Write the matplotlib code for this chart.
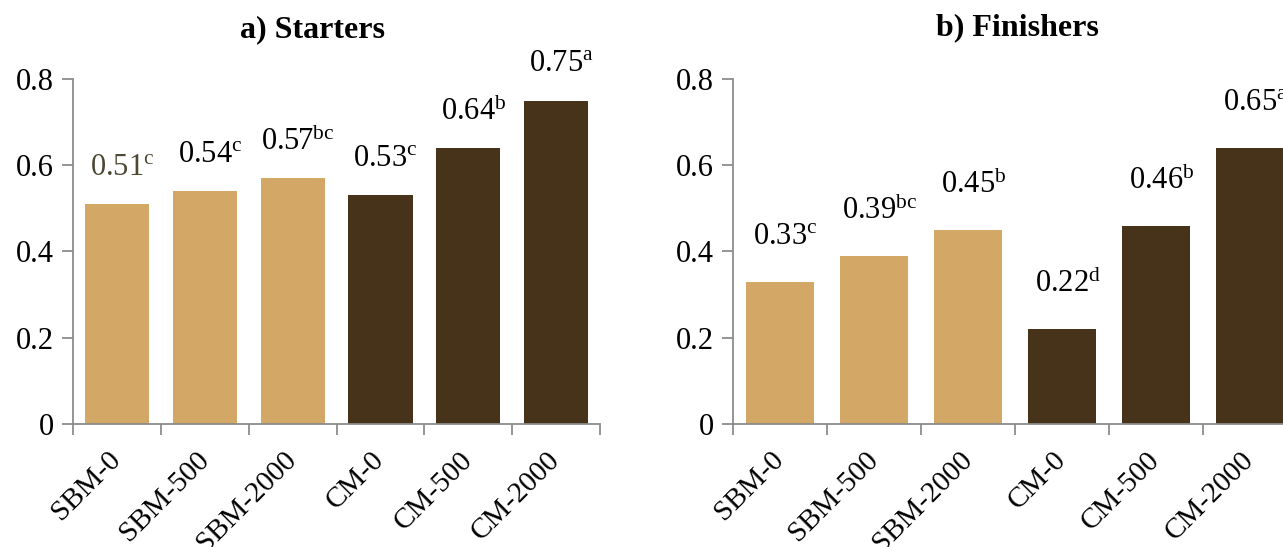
import numpy as np
import matplotlib
matplotlib.use('Agg')
import matplotlib.pyplot as plt

# ==========================================
# Plot style (Times-like serif, Excel look)
# ==========================================
plt.rcParams.update({
    'font.family': 'Liberation Serif',
    'mathtext.fontset': 'custom',
    'mathtext.rm': 'Liberation Serif',
    'mathtext.it': 'Liberation Serif:italic',
    'mathtext.bf': 'Liberation Serif:bold',
})

# ==========================================
# Data
# ==========================================
categories = ['SBM-0', 'SBM-500', 'SBM-2000', 'CM-0', 'CM-500', 'CM-2000']

starters = [0.51, 0.54, 0.57, 0.53, 0.64, 0.75]
starters_labels = ['0.51', '0.54', '0.57', '0.53', '0.64', '0.75']
starters_letters = ['c', 'c', 'bc', 'c', 'b', 'a']

finishers = [0.33, 0.39, 0.45, 0.22, 0.46, 0.64]
finishers_labels = ['0.33', '0.39', '0.45', '0.22', '0.46', '0.65']
finishers_letters = ['c', 'bc', 'b', 'd', 'b', 'a']

yticks = [0, 0.2, 0.4, 0.6, 0.8]

SBM_COLOR = '#d3a765'
CM_COLOR = '#47321a'
AXIS_COLOR = '#8c8c8c'


def draw_panel(ax, values, labels, letters, label_offset, first_color='black'):
    x = np.arange(len(categories))
    colors = [SBM_COLOR if c.startswith('SBM') else CM_COLOR for c in categories]
    ax.bar(x, values, width=0.73, color=colors, edgecolor='none', zorder=2)

    for i, (v, lab, let) in enumerate(zip(values, labels, letters)):
        col = first_color if i == 0 else 'black'
        ax.text(i + 0.06, v + label_offset, lab + r'$^{\mathrm{' + let + '}}$',
                ha='center', va='center', fontsize=22, color=col,
                clip_on=False)

    ax.set_xlim(-0.5, len(categories) - 0.5)
    ax.set_ylim(0, 0.8)
    ax.set_yticks(yticks)
    ax.set_yticklabels(['0', '0.2', '0.4', '0.6', '0.8'], fontsize=22)

    # category boundaries get the tick marks, labels sit in between
    ax.set_xticks(np.arange(-0.5, len(categories), 1.0))
    ax.set_xticklabels([])
    ax.set_xticks(x, minor=True)
    ax.set_xticklabels(categories, minor=True, rotation=45, ha='right',
                       va='center', rotation_mode='anchor', fontsize=21)
    ax.tick_params(axis='x', which='minor', length=0, pad=23)
    ax.tick_params(axis='x', which='major', length=8, width=1.3,
                   color=AXIS_COLOR, direction='out')
    ax.tick_params(axis='y', length=8, width=1.3, color=AXIS_COLOR,
                   direction='out', pad=6)

    for side in ('top', 'right'):
        ax.spines[side].set_visible(False)
    for side in ('left', 'bottom'):
        ax.spines[side].set_color(AXIS_COLOR)
        ax.spines[side].set_linewidth(1.3)


fig = plt.figure(figsize=(12.83, 5.47), dpi=100)

ax1 = fig.add_axes([0.0569, 0.2249, 0.4108, 0.6307])
ax2 = fig.add_axes([0.5713, 0.2249, 0.4396, 0.6307])

draw_panel(ax1, starters, starters_labels, starters_letters, 0.085,
           first_color='#4d4834')
draw_panel(ax2, finishers, finishers_labels, finishers_letters, 0.105)

fig.text(312 / 1283, 1 - 30 / 547, 'a) Starters', ha='center', va='center',
         fontsize=23, fontweight='bold')
fig.text(1017 / 1283, 1 - 28 / 547, 'b) Finishers', ha='center', va='center',
         fontsize=23, fontweight='bold')

fig.savefig('out.png', dpi=100)
